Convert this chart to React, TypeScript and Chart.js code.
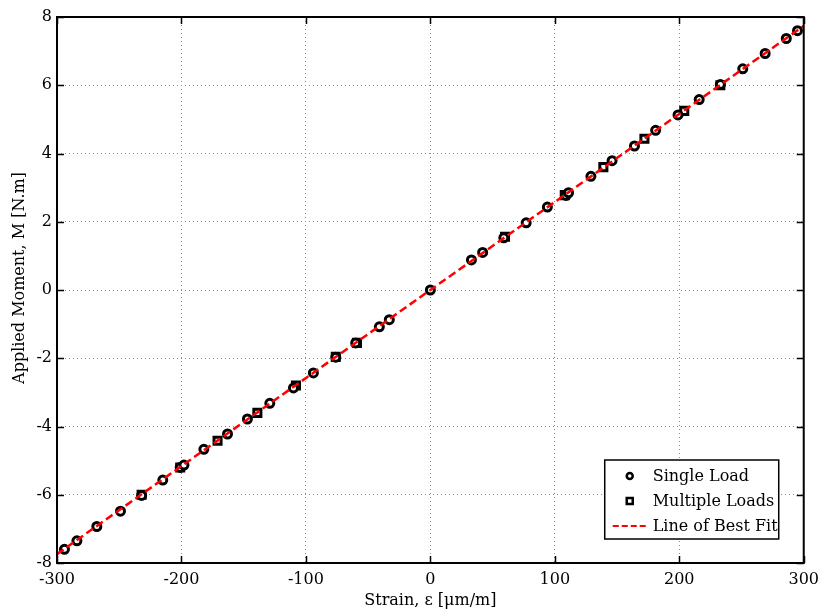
import React, { useEffect, useRef } from "react";
import { Chart, registerables } from "chart.js";

Chart.register(...registerables);

const FONT_FAMILY = "'DejaVu Serif', 'Liberation Serif', serif";

// Single load measurements (strain in µm/m, moment in N.m)
const singleStrain = [
  -294, -284, -268, -249, -232, -215, -201, -198, -182, -163, -147, -129, -110, -94,
  -76, -60, -41, -33, 0, 33, 42, 59, 77, 94, 109, 111, 129, 146, 164, 181, 199, 216,
  233, 251, 269, 286, 295,
];
const singleMoment = [
  -7.6, -7.35, -6.93, -6.48, -6.02, -5.57, -5.2, -5.13, -4.67, -4.22, -3.78, -3.32, -2.87,
  -2.43, -1.97, -1.55, -1.08, -0.87, 0, 0.88, 1.1, 1.53, 1.97, 2.43, 2.77, 2.85, 3.33,
  3.79, 4.22, 4.68, 5.13, 5.58, 6.02, 6.48, 6.93, 7.37, 7.6,
];

// Multiple loads measurements
const multipleStrain = [-232, -201, -171, -139, -108, -76, -59, 60, 108, 139, 172, 204, 233];
const multipleMoment = [-6.0, -5.2, -4.42, -3.6, -2.8, -1.96, -1.55, 1.56, 2.78, 3.6, 4.43, 5.25, 6.0];

// Line of best fit end points
const fitStrain = [-300, 300];
const fitMoment = [-7.74, 7.74];

const xTicks = [-300, -200, -100, 0, 100, 200, 300];
const yTicks = [-8, -6, -4, -2, 0, 2, 4, 6, 8];

const xTitle = "Strain, ε [μm/m]";
const yTitle = "Applied Moment, M [N.m]";
const legendLabels = ["Single Load", "Multiple Loads", "Line of Best Fit"];

export default function App() {
  const ref = useRef<HTMLCanvasElement>(null);

  useEffect(() => {
    if (!ref.current) return;

    const framePlugin = {
      id: "frameAndLegend",
      afterDraw(chart: any) {
        const { ctx, chartArea } = chart;
        const { left, right, top, bottom } = chartArea;
        const xs = chart.scales.x;
        const ys = chart.scales.y;
        ctx.save();
        // frame
        ctx.strokeStyle = "#000";
        ctx.lineWidth = 2;
        ctx.setLineDash([]);
        ctx.strokeRect(left, top, right - left, bottom - top);
        // inward ticks
        ctx.lineWidth = 1.5;
        const tl = 7;
        ctx.beginPath();
        for (const v of xTicks) {
          const px = Math.round(xs.getPixelForValue(v)) + 0.5;
          ctx.moveTo(px, bottom);
          ctx.lineTo(px, bottom - tl);
          ctx.moveTo(px, top);
          ctx.lineTo(px, top + tl);
        }
        for (const v of yTicks) {
          const py = Math.round(ys.getPixelForValue(v)) + 0.5;
          ctx.moveTo(left, py);
          ctx.lineTo(left + tl, py);
          ctx.moveTo(right, py);
          ctx.lineTo(right - tl, py);
        }
        ctx.stroke();

        // axis titles
        ctx.fillStyle = "#000";
        ctx.font = `16px ${FONT_FAMILY}`;
        ctx.textAlign = "center";
        ctx.textBaseline = "middle";
        ctx.fillText(xTitle, (left + right) / 2, 601);
        ctx.save();
        ctx.translate(20, (top + bottom) / 2 - 12);
        ctx.rotate(-Math.PI / 2);
        ctx.fillText(yTitle, 0, 0);
        ctx.restore();

        // legend box
        const bw = 174;
        const bh = 79;
        const bx = right - 25 - bw;
        const by = bottom - 24 - bh;
        ctx.fillStyle = "#fff";
        ctx.fillRect(bx, by, bw, bh);
        ctx.strokeStyle = "#000";
        ctx.lineWidth = 1.5;
        ctx.strokeRect(bx, by, bw, bh);

        const rows = [by + 16, by + 41, by + 66];
        const mx = bx + 25;
        // circle marker
        ctx.lineWidth = 2.5;
        ctx.beginPath();
        ctx.arc(mx, rows[0], 3, 0, Math.PI * 2);
        ctx.stroke();
        // square marker
        ctx.strokeRect(mx - 3, rows[1] - 3, 6, 6);
        // dashed red line
        ctx.strokeStyle = "#ff0000";
        ctx.lineWidth = 2;
        ctx.setLineDash([6, 3]);
        ctx.beginPath();
        ctx.moveTo(bx + 8, rows[2]);
        ctx.lineTo(bx + 43, rows[2]);
        ctx.stroke();
        ctx.setLineDash([]);

        ctx.fillStyle = "#000";
        ctx.textAlign = "left";
        ctx.font = `16px ${FONT_FAMILY}`;
        legendLabels.forEach((t, i) => ctx.fillText(t, bx + 48, rows[i] + 1));
        ctx.restore();
      },
    };

    const chart = new Chart(ref.current, {
      type: "scatter",
      data: {
        datasets: [
          {
            label: legendLabels[2],
            data: fitStrain.map((x, i) => ({ x, y: fitMoment[i] })),
            showLine: true,
            borderColor: "#ff0000",
            borderWidth: 2.5,
            borderDash: [8, 4],
            pointRadius: 0,
            fill: false,
            order: 0,
          },
          {
            label: legendLabels[0],
            data: singleStrain.map((x, i) => ({ x, y: singleMoment[i] })),
            pointStyle: "circle",
            pointRadius: 4,
            pointBorderWidth: 3,
            pointBackgroundColor: "#fff",
            pointBorderColor: "#000",
            order: 1,
          },
          {
            label: legendLabels[1],
            data: multipleStrain.map((x, i) => ({ x, y: multipleMoment[i] })),
            pointStyle: "rect",
            pointRadius: 5,
            pointBorderWidth: 3,
            pointBackgroundColor: "#fff",
            pointBorderColor: "#000",
            order: 2,
          },
        ],
      },
      options: {
        responsive: false,
        animation: false,
        layout: { padding: { top: 17, right: 19, left: 0, bottom: 0 } },
        plugins: {
          legend: { display: false },
          tooltip: { enabled: false },
          title: { display: false },
        },
        scales: {
          x: {
            type: "linear",
            min: -300,
            max: 300,
            afterBuildTicks: (scale: any) => {
              scale.ticks = xTicks.map((v) => ({ value: v }));
            },
            afterFit: (scale: any) => {
              scale.height = 49;
            },
            ticks: {
              font: { family: FONT_FAMILY, size: 16 },
              color: "#000",
              padding: 7,
              maxRotation: 0,
              callback: (v: any) => String(v),
            },
            grid: { color: "#8c8c8c", lineWidth: 1, drawTicks: false },
            border: { display: false, dash: [1, 3] },
          },
          y: {
            type: "linear",
            min: -8,
            max: 8,
            afterBuildTicks: (scale: any) => {
              scale.ticks = yTicks.map((v) => ({ value: v }));
            },
            afterFit: (scale: any) => {
              scale.width = 57;
            },
            ticks: {
              font: { family: FONT_FAMILY, size: 16 },
              color: "#000",
              padding: 5,
              callback: (v: any) => String(v),
            },
            grid: { color: "#8c8c8c", lineWidth: 1, drawTicks: false },
            border: { display: false, dash: [1, 3] },
          },
        },
      },
      plugins: [framePlugin],
    });

    return () => chart.destroy();
  }, []);

  return (
    <div style={{ position: "absolute", left: 0, top: 0, width: 826, height: 612, background: "#fff" }}>
      <canvas ref={ref} width={826} height={612} style={{ width: 826, height: 612, display: "block" }} />
    </div>
  );
}
